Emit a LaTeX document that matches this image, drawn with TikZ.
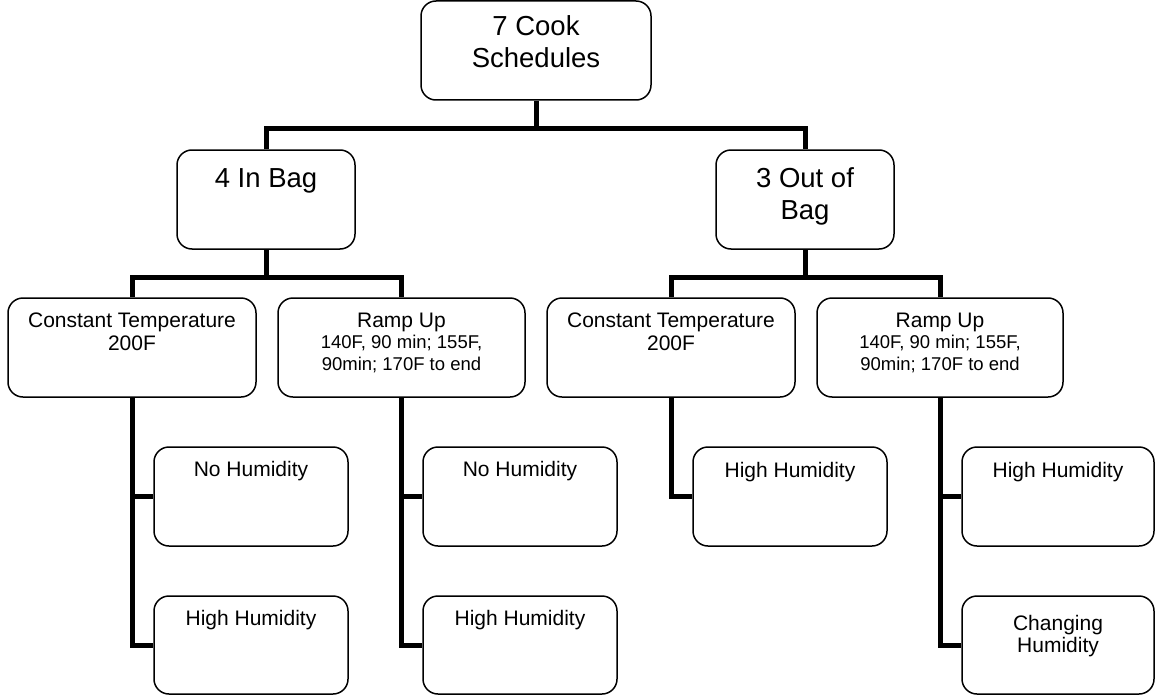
\documentclass[tikz,border=0pt]{standalone}
\usepackage{fontspec}
\setmainfont{Liberation Sans}
\begin{document}
\begin{tikzpicture}[x=1pt,y=-1pt,
  box/.style={draw=black, line width=1.5pt, rounded corners=15pt, fill=white, inner sep=0pt},
  link/.style={line width=5pt, black, line join=miter},
  txt/.style={inner sep=0pt, anchor=base},
  big/.style={txt, font=\fontsize{27.5}{31.5}\selectfont},
  mid/.style={txt, font=\fontsize{21}{23}\selectfont},
  sml/.style={txt, font=\fontsize{18.5}{21.5}\selectfont}]
\useasboundingbox (0,0) rectangle (1155,698);

% boxes
\node[box, minimum width=230pt, minimum height=99pt] (root) at (536,50.5) {};
\node[box, minimum width=178pt, minimum height=99pt] (inbag) at (266,199.5) {};
\node[box, minimum width=178pt, minimum height=99pt] (outbag) at (805,199.5) {};
\node[box, minimum width=248pt, minimum height=99pt] (ct1) at (132,347.5) {};
\node[box, minimum width=247pt, minimum height=99pt] (ru1) at (401.5,347.5) {};
\node[box, minimum width=248pt, minimum height=99pt] (ct2) at (671,347.5) {};
\node[box, minimum width=246pt, minimum height=99pt] (ru2) at (940,347.5) {};
\node[box, minimum width=194pt, minimum height=99pt] (nh1) at (251,496.5) {};
\node[box, minimum width=194pt, minimum height=98pt] (hh1) at (251,645) {};
\node[box, minimum width=194pt, minimum height=99pt] (nh2) at (520,496.5) {};
\node[box, minimum width=194pt, minimum height=98pt] (hh2) at (520,645) {};
\node[box, minimum width=194pt, minimum height=99pt] (hh3) at (790,496.5) {};
\node[box, minimum width=192pt, minimum height=99pt] (hh4) at (1058,496.5) {};
\node[box, minimum width=192pt, minimum height=98pt] (ch) at (1058,645) {};

% connectors
\coordinate (b0) at (536,128);
\coordinate (b1) at (266,277);
\coordinate (b2) at (805,277);
\draw[link] (root.south) -- (b0);
\draw[link] (inbag.north) |- (b0) -| (outbag.north);
\draw[link] (inbag.south) -- (b1);
\draw[link] (ct1.north) |- (b1) -| (ru1.north);
\draw[link] (outbag.south) -- (b2);
\draw[link] (ct2.north) |- (b2) -| (ru2.north);
\draw[link] (ct1.south) |- (hh1.west);
\draw[link] (ct1.south |- nh1.west) -- (nh1.west);
\draw[link] (ru1.south) |- (hh2.west);
\draw[link] (ru1.south |- nh2.west) -- (nh2.west);
\draw[link] (ct2.south) |- (hh3.west);
\draw[link] (ru2.south) |- (ch.west);
\draw[link] (ru2.south |- hh4.west) -- (hh4.west);

% texts
\node[big] (rootA) at (536,36) {7 Cook};
\node[big] (rootB) at (536,67.7) {Schedules};
\node[big] (inbagA) at (266,187) {4 In Bag};
\node[big] (outbagA) at (805,187) {3 Out of};
\node[big] (outbagB) at (805,219) {Bag};
\node[mid] (ct1A) at (132,327) {Constant Temperature};
\node[mid] (ct1B) at (132,350) {200F};
\node[mid] (ru1A) at (401.5,327) {Ramp Up};
\node[sml] (ru1B) at (401.5,348.5) {140F, 90 min; 155F,};
\node[sml] (ru1C) at (401.5,370) {90min; 170F to end};
\node[mid] (ct2A) at (671,327) {Constant Temperature};
\node[mid] (ct2B) at (671,350) {200F};
\node[mid] (ru2A) at (940,327) {Ramp Up};
\node[sml] (ru2B) at (940,348.5) {140F, 90 min; 155F,};
\node[sml] (ru2C) at (940,370) {90min; 170F to end};
\node[mid] (nh1A) at (251,476) {No Humidity};
\node[mid] (hh1A) at (251,625) {High Humidity};
\node[mid] (nh2A) at (520,476) {No Humidity};
\node[mid] (hh2A) at (520,625) {High Humidity};
\node[mid] (hh3A) at (790,477) {High Humidity};
\node[mid] (hh4A) at (1058,477) {High Humidity};
\node[mid] (chA) at (1058,630) {Changing};
\node[mid] (chB) at (1058,652) {Humidity};
\end{tikzpicture}
\end{document}
